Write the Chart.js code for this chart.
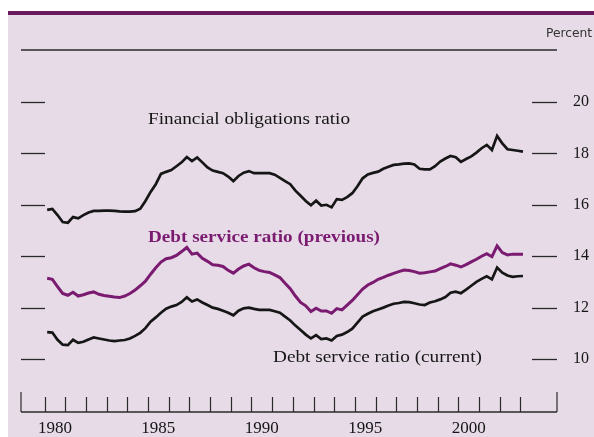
<!DOCTYPE html>
<html>
<head>
<meta charset="utf-8">
<script src="https://cdn.jsdelivr.net/npm/chart.js@4.4.1/dist/chart.umd.min.js"></script>
<style>
  html,body{margin:0;padding:0;background:#ffffff;}
  #wrap{width:594px;height:437px;}
</style>
</head>
<body>
<div id="wrap"><canvas id="c" width="594" height="437"></canvas></div>
<script>
// ---- Data (quarterly, 1980Q1 - 2003Q1) ----
const years = [1980,1981,1982,1983,1984,1985,1986,1987,1988,1989,1990,1991,1992,1993,1994,1995,1996,1997,1998,1999,2000,2001,2002,2003];
const quarters = [];
years.forEach(y => { for (let q = 1; q <= 4; q++) { if (y < 2003 || q === 1) quarters.push(y + 'Q' + q); } });

const financialObligations = [
  15.80,15.84,15.60,15.33, 15.30,15.52,15.47,15.60, 15.70,15.76,15.76,15.77,
  15.77,15.76,15.74,15.73, 15.73,15.75,15.85,16.15, 16.50,16.80,17.20,17.28,
  17.35,17.50,17.65,17.86, 17.70,17.84,17.65,17.45, 17.33,17.28,17.23,17.10,
  16.92,17.12,17.25,17.31, 17.23,17.23,17.23,17.23, 17.17,17.05,16.92,16.80,
  16.55,16.35,16.15,15.98, 16.16,15.97,16.00,15.90, 16.22,16.19,16.30,16.45,
  16.72,17.03,17.18,17.24, 17.29,17.40,17.48,17.55, 17.57,17.60,17.61,17.57,
  17.40,17.38,17.38,17.50, 17.68,17.80,17.90,17.85, 17.67,17.78,17.88,18.03,
  18.20,18.33,18.13,18.68, 18.39,18.16,18.13,18.10, 18.07
];
const debtServicePrevious = [
  13.14,13.10,12.82,12.55, 12.48,12.60,12.45,12.50, 12.57,12.61,12.52,12.47,
  12.44,12.41,12.39,12.45, 12.55,12.68,12.85,13.03, 13.30,13.55,13.77,13.90,
  13.94,14.03,14.18,14.34, 14.08,14.12,13.92,13.80, 13.67,13.65,13.60,13.45,
  13.34,13.50,13.62,13.69, 13.55,13.45,13.40,13.37, 13.27,13.17,12.95,12.74,
  12.45,12.20,12.07,11.85, 11.98,11.87,11.87,11.78, 11.96,11.91,12.10,12.28,
  12.50,12.72,12.88,12.98, 13.10,13.18,13.26,13.33, 13.40,13.46,13.44,13.40,
  13.34,13.36,13.39,13.42, 13.52,13.60,13.70,13.65, 13.58,13.67,13.78,13.88,
  14.00,14.10,13.98,14.40, 14.14,14.05,14.08,14.08, 14.08
];
const debtServiceCurrent = [
  11.05,11.03,10.75,10.56, 10.54,10.75,10.63,10.67, 10.76,10.84,10.80,10.76,
  10.72,10.70,10.72,10.74, 10.80,10.90,11.02,11.20, 11.45,11.62,11.80,11.96,
  12.04,12.10,12.22,12.40, 12.24,12.32,12.20,12.10, 12.00,11.95,11.88,11.80,
  11.70,11.88,11.97,12.00, 11.95,11.91,11.91,11.91, 11.86,11.80,11.65,11.50,
  11.30,11.13,10.95,10.80, 10.93,10.78,10.80,10.72, 10.90,10.95,11.05,11.18,
  11.42,11.65,11.76,11.86, 11.93,12.00,12.08,12.15, 12.18,12.22,12.21,12.17,
  12.12,12.10,12.20,12.25, 12.32,12.41,12.58,12.62, 12.56,12.70,12.85,13.00,
  13.12,13.22,13.10,13.56, 13.36,13.25,13.20,13.22, 13.23
];
const yTickValues = [10,12,14,16,18,20];
const xLabelYears = [1980,1985,1990,1995,2000];
const xTickYears = [1980,1981,1982,1983,1984,1985,1986,1987,1988,1989,1990,1991,1992,1993,1994,1995,1996,1997,1998,1999,2000,2001,2002,2003];
const seriesNames = ['Financial obligations ratio','Debt service ratio (previous)','Debt service ratio (current)'];

// quarter label -> mid-quarter position in years
const qPos = quarters.map(s => { const y = +s.slice(0,4), q = +s.slice(5); return y + (q - 0.5) / 4; });
const toPts = vals => vals.map((v, i) => ({x: qPos[i], y: v}));

const PINK = '#e6dbe6', BAND = '#6c1a60', PURPLE = '#7a1a70', INK = '#161616';

const decor = {
  id: 'decor',
  beforeDraw(chart) {
    const ctx = chart.ctx;
    ctx.save();
    ctx.fillStyle = '#ffffff'; ctx.fillRect(0, 0, 594, 437);
    ctx.fillStyle = PINK; ctx.fillRect(8, 11, 586, 426);
    ctx.fillStyle = BAND; ctx.fillRect(8, 11, 586, 4);
    ctx.restore();
  },
  afterDraw(chart) {
    const ctx = chart.ctx, a = chart.chartArea, xs = chart.scales.x, ys = chart.scales.y;
    ctx.save();
    ctx.strokeStyle = '#2a2a2a'; ctx.lineWidth = 1.3;
    // top rule
    ctx.beginPath(); ctx.moveTo(a.left, a.top); ctx.lineTo(a.right, a.top); ctx.stroke();
    // y tick marks both sides
    yTickValues.forEach(v => {
      const py = Math.round(ys.getPixelForValue(v)) + 0.5;
      ctx.beginPath(); ctx.moveTo(a.left, py); ctx.lineTo(a.left + 24, py); ctx.stroke();
      ctx.beginPath(); ctx.moveTo(a.right - 25, py); ctx.lineTo(a.right, py); ctx.stroke();
    });
    // x axis line and tick marks
    ctx.lineWidth = 1.5;
    ctx.beginPath(); ctx.moveTo(a.left, a.bottom); ctx.lineTo(a.right, a.bottom); ctx.stroke();
    ctx.lineWidth = 1.2;
    xTickYears.forEach(y => {
      const px = Math.round(xs.getPixelForValue(y)) + 0.5;
      ctx.beginPath(); ctx.moveTo(px, a.bottom); ctx.lineTo(px, a.bottom - 15); ctx.stroke();
    });
    [a.left, a.right].forEach(px => {
      ctx.beginPath(); ctx.moveTo(px, a.bottom); ctx.lineTo(px, a.bottom - 20); ctx.stroke();
    });
    // texts
    const fitText = (txt, font, color, x, yMid, w) => {
      ctx.font = font; ctx.fillStyle = color; ctx.textBaseline = 'middle'; ctx.textAlign = 'left';
      const m = ctx.measureText(txt).width;
      ctx.save(); ctx.translate(x, yMid); ctx.scale(w / m, 1); ctx.fillText(txt, 0, 0); ctx.restore();
    };
    fitText('Percent', '12px "Liberation Sans Narrow", "DejaVu Sans Condensed", sans-serif', '#333', 546, 34, 46);
    fitText(seriesNames[0], '16px "Liberation Serif", serif', INK, 148, 120, 202);
    fitText(seriesNames[1], 'bold 16px "Liberation Serif", serif', PURPLE, 148, 238, 232);
    fitText(seriesNames[2], '16px "Liberation Serif", serif', INK, 273, 358, 209);
    ctx.restore();
  }
};

new Chart(document.getElementById('c'), {
  type: 'line',
  data: {
    datasets: [
      {label: seriesNames[0], data: toPts(financialObligations), borderColor: INK, borderWidth: 2.7, pointRadius: 0, tension: 0},
      {label: seriesNames[1], data: toPts(debtServicePrevious), borderColor: PURPLE, borderWidth: 3, pointRadius: 0, tension: 0},
      {label: seriesNames[2], data: toPts(debtServiceCurrent), borderColor: INK, borderWidth: 2.7, pointRadius: 0, tension: 0}
    ]
  },
  options: {
    responsive: false,
    animation: false,
    devicePixelRatio: 1,
    layout: {padding: {left: 21, top: 50, right: 0, bottom: 0}},
    plugins: {legend: {display: false}, tooltip: {enabled: false}},
    scales: {
      x: {
        type: 'linear', position: 'bottom', min: 1978.86, max: 2004.77,
        grid: {display: false}, border: {display: false},
        afterBuildTicks: s => { s.ticks = xLabelYears.map(y => ({value: y + 0.5})); },
        afterFit: s => { s.height = 25; },
        ticks: {autoSkip: false, maxRotation: 0, padding: 0, color: INK,
                font: {family: '"Liberation Serif", serif', size: 17, lineHeight: 1},
                callback: v => String(Math.floor(v))}
      },
      y: {
        type: 'linear', position: 'right', min: 7.94, max: 22.02,
        grid: {display: false}, border: {display: false},
        afterBuildTicks: s => { s.ticks = yTickValues.map(v => ({value: v})); },
        afterFit: s => { s.width = 37; },
        ticks: {padding: 8, color: INK, font: {family: '"Liberation Serif", serif', size: 16}}
      }
    }
  },
  plugins: [decor]
});
</script>
</body>
</html>
